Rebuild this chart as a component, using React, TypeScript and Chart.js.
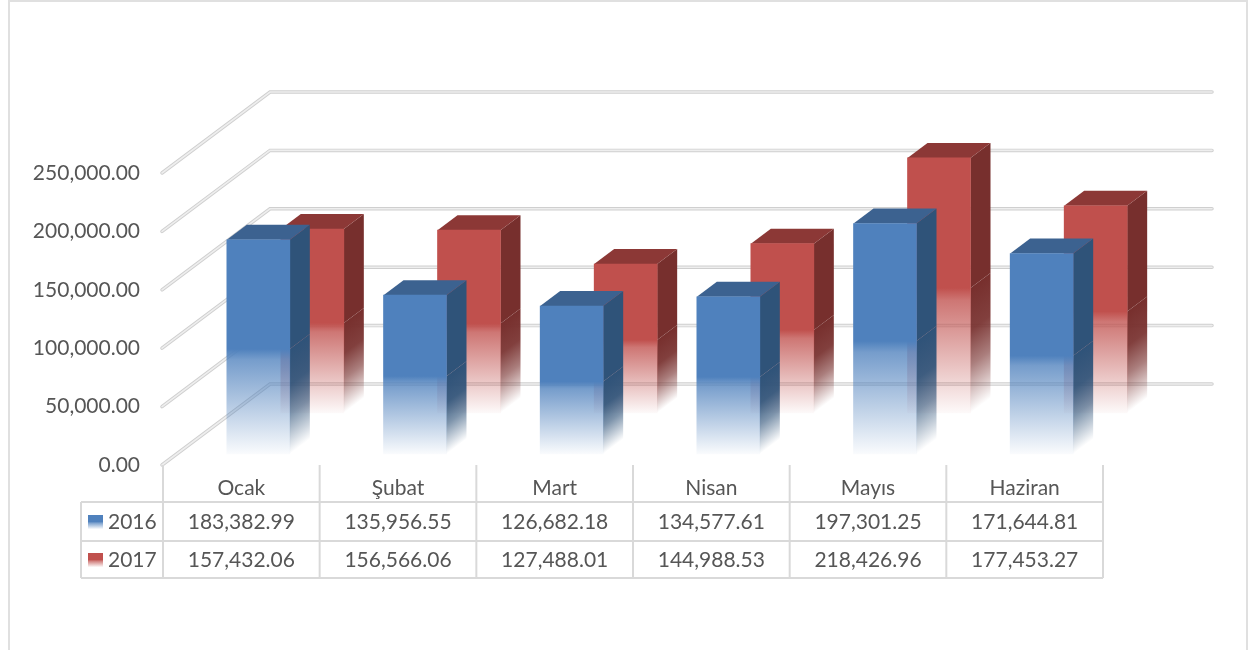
import React, { useEffect, useRef } from "react";
import { Chart, registerables } from "chart.js";

Chart.register(...registerables);

const categories = ["Ocak", "Şubat", "Mart", "Nisan", "Mayıs", "Haziran"];
const series2016 = [183382.99, 135956.55, 126682.18, 134577.61, 197301.25, 171644.81];
const series2017 = [157432.06, 156566.06, 127488.01, 144988.53, 218426.96, 177453.27];
const seriesNames = ["2016", "2017"];
const yTickStep = 50000;
const yMax = 250000;

const FONT = "21px Lato";
const TEXT = "#565656";
const fmt = (v: number) =>
  v.toLocaleString("en-US", { minimumFractionDigits: 2, maximumFractionDigits: 2 });

type Look = { dx: number; dy: number; rgb: string; side: string; top: string };
const looks: Look[] = [
  { dx: 17, dy: -11, rgb: "79,129,189", side: "47,83,121", top: "60,98,144" },
  { dx: 71, dy: -52, rgb: "192,80,77", side: "119,47,45", top: "140,56,54" },
];
const DEPTH_X = 20;
const DEPTH_Y = -15;
const WALL_X = 108;
const WALL_Y = -81;
const WALL_RIGHT = 1212;

function stops(g: CanvasGradient, rgb: string, solidUntil: number) {
  g.addColorStop(0, `rgba(${rgb},1)`);
  g.addColorStop(solidUntil, `rgba(${rgb},1)`);
  g.addColorStop(solidUntil + (1 - solidUntil) * 0.1, `rgba(${rgb},0.78)`);
  g.addColorStop(1, `rgba(${rgb},0.03)`);
  return g;
}

function frontFill(index: number) {
  return (c: any) => {
    const { chart, raw } = c;
    const s = chart.scales.y;
    const look = looks[index];
    if (!s || raw === undefined) return `rgb(${look.rgb})`;
    const y0 = s.getPixelForValue(raw);
    const y1 = s.getPixelForValue(0);
    if (!Number.isFinite(y0) || !Number.isFinite(y1)) return `rgb(${look.rgb})`;
    const g = chart.ctx.createLinearGradient(0, y0, 0, y1);
    return stops(g, look.rgb, 0.51);
  };
}

const threeD = {
  id: "threeD",
  beforeDraw(chart: any) {
    const { ctx, scales } = chart;
    const s = scales.y;
    const a = chart.chartArea;
    ctx.save();
    ctx.fillStyle = "#fff";
    ctx.fillRect(0, 0, chart.width, chart.height);
    ctx.strokeStyle = "#e0e0e0";
    ctx.lineWidth = 2;
    ctx.beginPath();
    ctx.moveTo(9, 650);
    ctx.lineTo(9, 1);
    ctx.lineTo(1247, 1);
    ctx.lineTo(1247, 650);
    ctx.stroke();
    ctx.lineCap = "round";
    s.ticks.forEach((t: any) => {
      const y = s.getPixelForValue(t.value);
      const line = () => {
        ctx.beginPath();
        ctx.moveTo(a.left - 1, y);
        ctx.lineTo(a.left - 1 + WALL_X, y + WALL_Y);
        ctx.lineTo(WALL_RIGHT, y + WALL_Y);
        ctx.stroke();
      };
      ctx.strokeStyle = "#cfcfcf";
      ctx.lineWidth = 3.5;
      line();
      ctx.strokeStyle = "#eeeeee";
      ctx.lineWidth = 1.6;
      line();
    });
    ctx.restore();
  },
  beforeDatasetDraw(chart: any, args: any) {
    const { ctx } = chart;
    const look = looks[args.index];
    const meta = chart.getDatasetMeta(args.index);
    ctx.save();
    ctx.translate(look.dx, look.dy);
    meta.data.forEach((el: any) => {
      const right = el.x + el.width / 2;
      const left = el.x - el.width / 2;
      const h = el.base - el.y;
      const y0 = el.y + h * 0.51;
      const len = (el.base - y0) * 0.8;
      const g = ctx.createLinearGradient(right, y0, right + 0.6 * len, y0 + 0.8 * len);
      g.addColorStop(0, `rgba(${look.side},1)`);
      g.addColorStop(0.34, `rgba(${look.side},0.92)`);
      g.addColorStop(0.62, `rgba(${look.side},0.62)`);
      g.addColorStop(1, `rgba(${look.side},0)`);
      ctx.fillStyle = `rgb(${look.side})`;
      ctx.beginPath();
      ctx.moveTo(right, el.y);
      ctx.lineTo(right + DEPTH_X, el.y + DEPTH_Y);
      ctx.lineTo(right + DEPTH_X, y0 + DEPTH_Y);
      ctx.lineTo(right, y0);
      ctx.closePath();
      ctx.fill();
      ctx.fillStyle = g;
      ctx.beginPath();
      ctx.moveTo(right, y0);
      ctx.lineTo(right + DEPTH_X, y0 + DEPTH_Y);
      ctx.lineTo(right + DEPTH_X, el.base + DEPTH_Y);
      ctx.lineTo(right, el.base);
      ctx.closePath();
      ctx.fill();
      ctx.fillStyle = `rgb(${look.top})`;
      ctx.beginPath();
      ctx.moveTo(left, el.y);
      ctx.lineTo(left + DEPTH_X, el.y + DEPTH_Y);
      ctx.lineTo(right + DEPTH_X, el.y + DEPTH_Y);
      ctx.lineTo(right, el.y);
      ctx.closePath();
      ctx.fill();
    });
  },
  afterDatasetDraw(chart: any) {
    chart.ctx.restore();
  },
  afterDraw(chart: any) {
    const { ctx, scales } = chart;
    const a = chart.chartArea;
    const x = scales.x;
    const cols = categories.length;
    const cw = (a.right - a.left) / cols;
    const rows = [502, 541, 578];
    const tableLeft = 81;
    ctx.save();
    ctx.strokeStyle = "#d9d9d9";
    ctx.lineWidth = 2;
    rows.forEach((y) => {
      ctx.beginPath();
      ctx.moveTo(tableLeft, y);
      ctx.lineTo(a.right, y);
      ctx.stroke();
    });
    for (let i = 0; i <= cols; i++) {
      const vx = a.left + i * cw;
      ctx.beginPath();
      ctx.moveTo(vx, a.bottom);
      ctx.lineTo(vx, rows[2]);
      ctx.stroke();
    }
    ctx.beginPath();
    ctx.moveTo(tableLeft, rows[0]);
    ctx.lineTo(tableLeft, rows[2]);
    ctx.stroke();
    ctx.font = FONT;
    ctx.fillStyle = TEXT;
    ctx.textBaseline = "middle";
    [series2016, series2017].forEach((vals, r) => {
      const cy = (rows[r] + rows[r + 1]) / 2 + 0.5;
      const g = ctx.createLinearGradient(0, cy - 7, 0, cy + 7);
      stops(g, looks[r].rgb, 0.5);
      ctx.fillStyle = g;
      ctx.fillRect(88, cy - 7, 15, 14);
      ctx.fillStyle = TEXT;
      ctx.textAlign = "left";
      ctx.fillText(seriesNames[r], 108, cy);
      ctx.textAlign = "center";
      vals.forEach((v, i) => {
        ctx.fillText(fmt(v), x.getPixelForValue(i), cy);
      });
    });
    ctx.restore();
  },
};

export default function App() {
  const ref = useRef<HTMLCanvasElement>(null);
  useEffect(() => {
    const chart = new Chart(ref.current as HTMLCanvasElement, {
      type: "bar",
      data: {
        labels: categories,
        datasets: [
          {
            label: seriesNames[0],
            data: series2016,
            backgroundColor: frontFill(0),
            barThickness: 63,
            grouped: false,
            clip: false,
            borderWidth: 0,
          } as any,
          {
            label: seriesNames[1],
            data: series2017,
            backgroundColor: frontFill(1),
            barThickness: 63,
            grouped: false,
            clip: false,
            borderWidth: 0,
          } as any,
        ],
      },
      options: {
        responsive: false,
        animation: false,
        layout: { padding: { left: 0, right: 147, top: 173, bottom: 100 } },
        plugins: { legend: { display: false }, title: { display: false }, tooltip: { enabled: false } },
        scales: {
          x: {
            grid: { display: false },
            border: { display: false },
            ticks: {
              autoSkip: false,
              maxRotation: 0,
              minRotation: 0,
              padding: 3,
              color: TEXT,
              font: { family: "Lato", size: 21 },
            },
            afterFit(scale: any) {
              scale.height = 85;
            },
          },
          y: {
            min: 0,
            max: yMax,
            grid: { display: false },
            border: { display: false },
            ticks: {
              stepSize: yTickStep,
              padding: 15,
              color: TEXT,
              font: { family: "Lato", size: 21 },
              callback: (v: any) => fmt(Number(v)),
            },
            afterFit(scale: any) {
              scale.width = 163;
            },
          },
        },
      },
      plugins: [threeD],
    } as any);
    return () => chart.destroy();
  }, []);
  return (
    <div style={{ position: "fixed", left: 0, top: 0, width: 1250, height: 650, background: "#fff" }}>
      <canvas ref={ref} width={1250} height={650} style={{ display: "block" }} />
    </div>
  );
}
